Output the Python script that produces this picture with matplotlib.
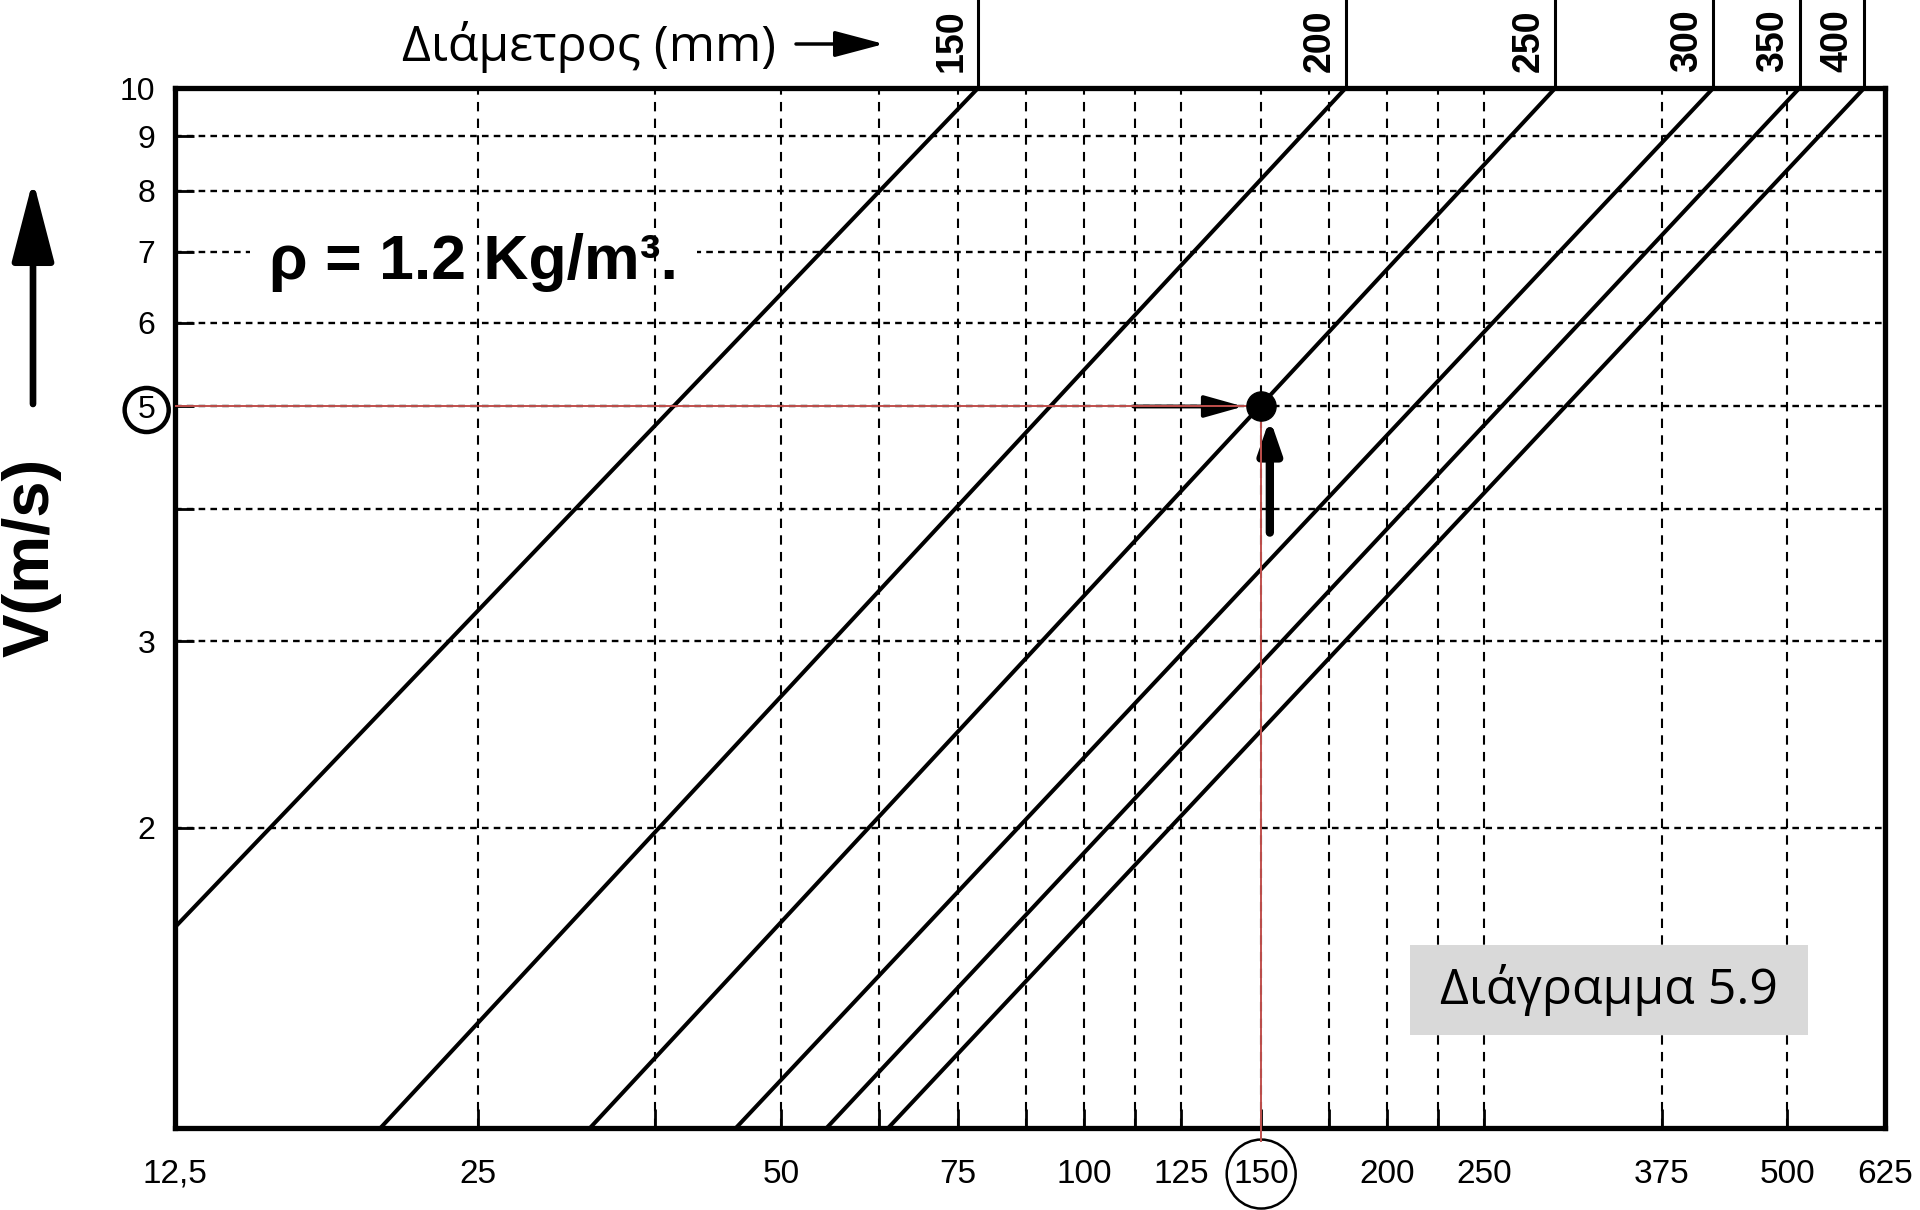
import matplotlib
matplotlib.use("Agg")
import matplotlib.pyplot as plt
from matplotlib import transforms
from matplotlib.patches import Rectangle, FancyArrowPatch

plt.rcParams["font.family"] = ["Liberation Sans", "DejaVu Sans"]

diameters = [150, 200, 250, 300, 350, 400]  # mm
line_q_start = [12.5, 20.0, 32.3, 45.1, 55.5, 63.9]
line_v_start = [1.61, 1.04, 1.04, 1.04, 1.04, 1.04]
line_q_end = [78.5, 182.0, 294.0, 422.0, 514.0, 596.0]
line_v_end = [10, 10, 10, 10, 10, 10]

x_ticks = [12.5, 25, 50, 75, 100, 125, 150, 200, 250, 375, 500, 625]
x_ticklabels = ["12,5", "25", "50", "75", "100", "125", "150", "200", "250", "375", "500", "625"]
x_grid = [25, 37.5, 50, 62.5, 75, 87.5, 100, 112.5, 125, 150, 175, 200, 225, 250, 375, 500]

y_ticks = [2, 3, 4, 5, 6, 7, 8, 9, 10]
y_ticklabels = ["2", "3", "", "5", "6", "7", "8", "9", "10"]
y_grid = [2, 3, 4, 5, 6, 7, 8, 9]

x_min, x_max = 12.5, 625
v_min, v_max = 1.04, 10

# worked example read on the chart
pick_x = 150
pick_v = 5

red = "#c0504d"
greek = ["Open Sans", "DejaVu Sans"]

fig = plt.figure(figsize=(19.2, 12.1), dpi=100)
ax = fig.add_axes((175 / 1920, 82 / 1210, 1710 / 1920, 1040 / 1210))
ax.set_xscale("log")
ax.set_yscale("log")
ax.set_xlim(x_min, x_max)
ax.set_ylim(v_min, v_max)

# grid drawn by hand so the density label can hide the 7 line only
for v in y_grid:
    ax.axhline(v, color="k", lw=1.7, ls=(0, (2.8, 2.2)), zorder=1)
for q in x_grid:
    ax.axvline(q, color="k", lw=1.5, ls=(0, (4.5, 3.5)), zorder=2)

for i in range(len(diameters)):
    ax.plot([line_q_start[i], line_q_end[i]], [line_v_start[i], line_v_end[i]],
            color="k", lw=2.9, zorder=3, solid_capstyle="butt")

# diameter scale on top
top = transforms.blended_transform_factory(ax.transData, ax.transAxes)
for d, q in zip(diameters, line_q_end):
    ax.plot([q, q], [1, 1 + 90 / 1040], transform=top, color="k", lw=2.2, clip_on=False)
    ax.annotate(str(d), xy=(q, 1), xycoords=top, xytext=(-19, 34),
                textcoords="offset points", rotation=90, ha="center", va="center",
                fontsize=27, fontweight="bold", annotation_clip=False)

# ticks and labels
ax.set_xticks(x_ticks)
ax.set_xticklabels(x_ticklabels)
ax.set_xticks([q for q in x_grid if q not in x_ticks], minor=True)
ax.set_xticklabels([], minor=True)
ax.set_yticks(y_ticks)
ax.set_yticklabels(y_ticklabels)
ax.set_yticks([], minor=True)
ax.tick_params(axis="x", which="both", direction="in", length=14, width=2,
               labelsize=24, pad=22, top=False)
ax.tick_params(axis="y", which="both", direction="in", length=14, width=2,
               labelsize=23, pad=14)
for s in ax.spines.values():
    s.set_linewidth(3.8)

ax.get_yticklabels()[3].set_bbox(dict(boxstyle="circle,pad=0.22", fc="none", ec="k", lw=3.2))
ax.get_xticklabels()[6].set_bbox(dict(boxstyle="circle,pad=0.2", fc="none", ec="k", lw=1.8))

# worked example
ax.plot([x_min, pick_x], [pick_v, pick_v], color=red, lw=1.4, zorder=5)
ax.plot([pick_x, pick_x], [pick_v, 1.012], color=red, lw=1.4, zorder=5, clip_on=False)
ax.annotate("", xy=(144, pick_v), xytext=(112, pick_v),
            arrowprops=dict(arrowstyle="-|>,head_length=1.6,head_width=0.45", lw=2.8,
                            color="k", mutation_scale=15, shrinkA=0, shrinkB=0), zorder=4)
ax.annotate("", xy=(153, 4.87), xytext=(153, 3.8),
            arrowprops=dict(arrowstyle="-|>,head_length=1.3,head_width=0.45", lw=6,
                            color="k", mutation_scale=15, shrinkA=0, shrinkB=0), zorder=4)
ax.plot([pick_x], [pick_v], "o", color="k", ms=21, zorder=6)

ax.text(0.055, 0.832, "ρ = 1.2 Kg/m³.", transform=ax.transAxes, fontsize=45,
        fontweight="bold", va="center", ha="left", zorder=1.5,
        bbox=dict(boxstyle="square,pad=0.3", fc="white", ec="none"))

# axis titles
fig.text(2 / 1920, 1 - 557 / 1210, "V(m/s)", rotation=90, fontsize=47,
         fontweight="bold", ha="left", va="center")
fig.patches.append(FancyArrowPatch(
    (33 / 1920, 1 - 404 / 1210), (33 / 1920, 1 - 180 / 1210), transform=fig.transFigure,
    arrowstyle="-|>,head_length=2.5,head_width=0.65", mutation_scale=20, lw=4.8,
    color="k", shrinkA=0, shrinkB=0))

fig.text(589 / 1920, 1 - 47 / 1210, "Διάμετρος (mm)", fontsize=36, family=greek,
         ha="center", va="center")
fig.patches.append(FancyArrowPatch(
    (796 / 1920, 1 - 44 / 1210), (884 / 1920, 1 - 44 / 1210), transform=fig.transFigure,
    arrowstyle="-|>,head_length=1.7,head_width=0.45", mutation_scale=18, lw=2.5,
    color="k", shrinkA=0, shrinkB=0))

# caption box
ax.add_patch(Rectangle((1410 / 1920, 1 - 1035 / 1210), 398 / 1920, 90 / 1210,
                       transform=fig.transFigure, fc="#d9d9d9", ec="none", zorder=7))
ax.text(1609 / 1920, 1 - 990 / 1210, "Διάγραμμα 5.9", transform=fig.transFigure,
        fontsize=36, family=greek, ha="center", va="center", zorder=8)

fig.savefig("out.png", dpi=100)
